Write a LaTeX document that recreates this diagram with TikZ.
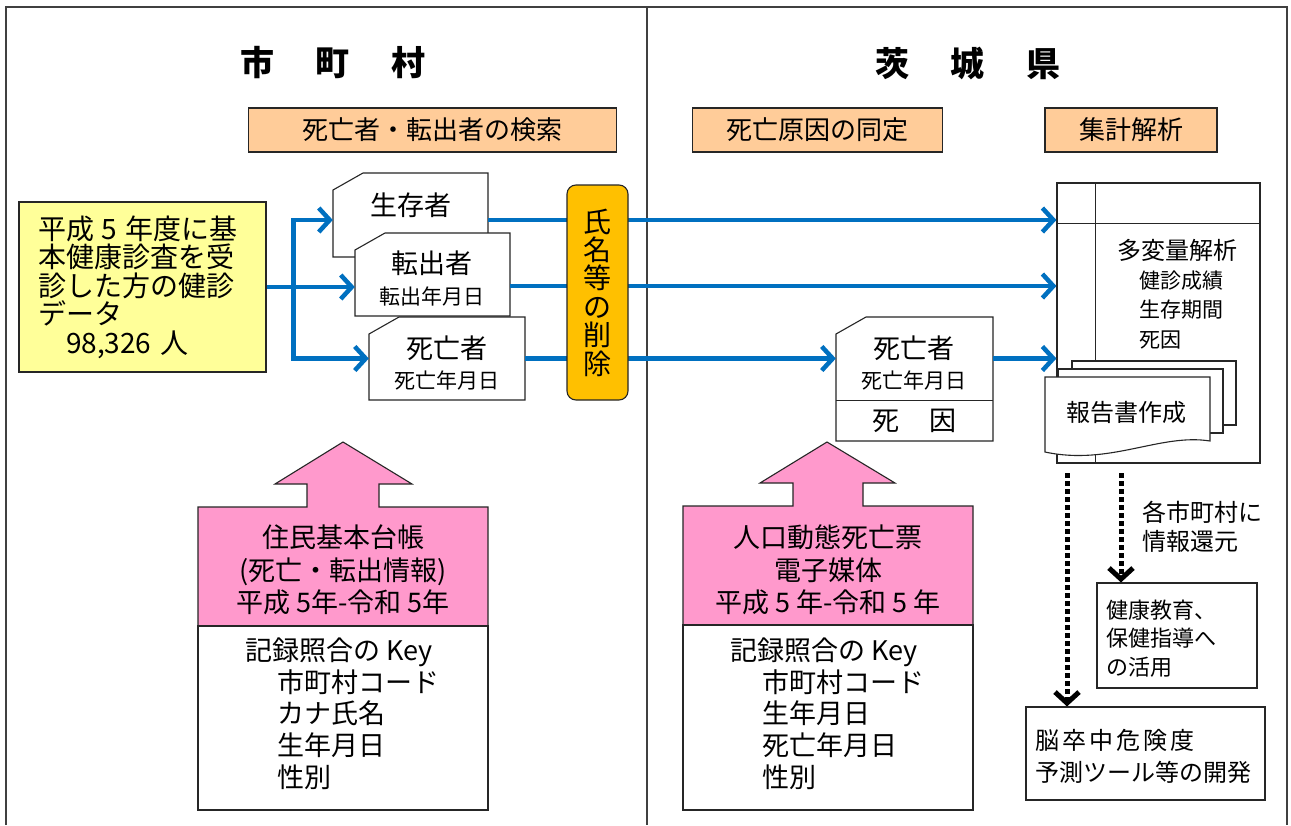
\documentclass[tikz,border=0pt]{standalone}
\usepackage{fontspec}
\setmainfont{Noto Sans CJK JP}
\usetikzlibrary{arrows.meta,calc}
\definecolor{arrowblue}{HTML}{0070C0}
\definecolor{hdrorange}{HTML}{FFCC99}
\definecolor{lightyellow}{HTML}{FFFF99}
\definecolor{goldfill}{HTML}{FFC000}
\definecolor{pinkfill}{HTML}{FF99CC}
\definecolor{edge}{HTML}{262626}
\newcommand{\fz}[2]{\fontsize{#1pt}{#2pt}\selectfont}
\newcommand{\cardpath}[4]{\filldraw[cardline] (#1,#4) -- (#1,#2+17) -- (#1+30,#2) -- (#3,#2) -- (#3,#4) -- cycle;}
\begin{document}
\begin{tikzpicture}[x=1pt,y=-1pt,
  frameline/.style={draw=black!75, line width=1.3pt},
  box/.style={draw=edge, line width=1.1pt, inner sep=0pt},
  txt/.style={inner sep=0pt},
  hdr/.style={box, fill=hdrorange, minimum height=44pt, font=\fz{26}{30}},
  cardline/.style={draw=edge, line width=1.1pt, fill=white},
  cardnode/.style={inner sep=0pt},
  bigtxt/.style={txt, font=\fz{27}{30}},
  smalltxt/.style={txt, font=\fz{21}{24}},
  titletxt/.style={txt, font=\fz{34}{38}\bfseries},
  bluearr/.style={draw=arrowblue, line width=4.5pt, -{Straight Barb[length=11pt,width=24pt]}},
  dotarr/.style={draw=black, line width=5pt, dash pattern=on 4.5pt off 3.5pt, -{Straight Barb[length=11pt,width=24pt]}},
  pinkshape/.style={draw=edge, line width=1.1pt, fill=pinkfill}
]
\useasboundingbox[fill=white] (0,0) rectangle (1291,825);
\draw[frameline] (6,825) -- (6,7) -- (1287,7) -- (1287,825);
\draw[frameline] (647,7) -- (647,825);

% titles
\node[titletxt] (tl) at (333,63) {市\hspace{42pt}町\hspace{42pt}村};
\node[titletxt] (tr) at (968,63) {茨\hspace{42pt}城\hspace{42pt}県};

% headers
\node[hdr, minimum width=368pt] (h1) at (432.5,130) {死亡者・転出者の検索};
\node[hdr, minimum width=250pt] (h2) at (817.5,130) {死亡原因の同定};
\node[hdr, minimum width=172pt] (h3) at (1131,130) {集計解析};

% yellow data box
\node[box, fill=lightyellow, minimum width=247pt, minimum height=170pt, text width=209pt, inner xsep=19pt, align=left, font=\fz{28}{28.5}] (yb) at (142.5,287) {平成\hspace{8pt}5\hspace{8pt}年度に基\\本健康診査を受\\診した方の健診\\データ\\\hspace*{28pt}98,326 人};

% cards
\cardpath{333}{173}{488}{257}
\node[cardnode, minimum width=155pt, minimum height=84pt] (c1) at (410.5,215) {};
\node[bigtxt] (c1a) at (411,205) {生存者};
\cardpath{355}{233}{510}{316}
\node[cardnode, minimum width=155pt, minimum height=83pt] (c2) at (432.5,274.5) {};
\node[bigtxt] (c2a) at (432,263) {転出者};
\node[smalltxt] (c2b) at (432,296) {転出年月日};
\cardpath{369}{317}{525}{400}
\node[cardnode, minimum width=156pt, minimum height=83pt] (c3) at (447,358.5) {};
\node[bigtxt] (c3a) at (447,348) {死亡者};
\node[smalltxt] (c3b) at (447,380) {死亡年月日};

% right card
\cardpath{836}{317}{993}{441}
\node[cardnode, minimum width=157pt, minimum height=124pt] (rc) at (914.5,379) {};
\draw[cardline] ($(rc.north west)+(0,84)$) -- ($(rc.north east)+(0,84)$);
\node[bigtxt] (rca) at (914,348) {死亡者};
\node[smalltxt] (rcb) at (914,380) {死亡年月日};
\node[bigtxt] (rcc) at (914,421) {死\hspace{30pt}因};

% analysis box
\node[box, fill=white, minimum width=203pt, minimum height=280pt] (bb) at (1158.5,323) {};
\draw[cardline] ($(bb.north west)+(0,41)$) -- ($(bb.north east)+(0,41)$);
\draw[cardline] ($(bb.north west)+(39,0)$) -- ($(bb.south west)+(39,0)$);
\node[txt, font=\fz{24}{28}] (bb1) at (1177,250) {多変量解析};
\node[txt, font=\fz{21}{29.5}, align=left, anchor=west] (bb2) at (1139,310) {健診成績\\生存期間\\死因};
\filldraw[cardline] (1072,361) rectangle (1236,425);
\filldraw[cardline] (1058,369) rectangle (1223,433);
\filldraw[cardline] (1045,377) -- (1210,377) -- (1210,441) .. controls (1160,433) and (1110,466) .. (1045,452) -- cycle;
\node[txt, font=\fz{24}{28}] (rep) at (1126,412) {報告書作成};

% blue connectors
\path (yb.east) ++(27,0) coordinate (br);
\draw[bluearr] (yb.east) -- (yb.east -| c2.west);
\draw[bluearr] (br) |- ([yshift=-5pt]c1.west);
\draw[bluearr] (br) |- (c3.west);
\draw[bluearr] ([yshift=-5pt]c1.east) -- ([yshift=-5pt]c1.east -| bb.west);
\draw[bluearr] ([yshift=-11.5pt]c2.east) -- ([yshift=-11.5pt]c2.east -| bb.west);
\draw[bluearr] (c3.east) -- (c3.east -| rc.west);
\draw[bluearr] (rc.east |- c3.east) -- (c3.east -| bb.west);

% name deletion bar
\node[draw=edge, line width=1.1pt, fill=goldfill, rounded corners=9pt, minimum width=61pt, minimum height=215pt, align=center, font=\fz{28}{28.4}, inner sep=0pt] (gb) at (597.5,292.5) {氏\\名\\等\\の\\削\\除};

% pink source arrows (left)
\filldraw[pinkshape] (198,626) -- (198,507) -- (307,507) -- (307,484) -- (275,484) -- (343,442) -- (412,484) -- (379,484) -- (379,507) -- (488,507) -- (488,626) -- cycle;
\node[txt, font=\fz{27}{32.5}, align=center] (p1) at (343,570) {住民基本台帳\\(死亡・転出情報)\\平成 5年-令和 5年};
\node[box, fill=white, minimum width=290pt, minimum height=184pt] (w1) at (343,718) {};
\node[txt, font=\fz{27}{31.7}, align=left, anchor=west] (w1t) at (245,713.5) {記録照合の Key\\\hspace*{32pt}市町村コード\\\hspace*{32pt}カナ氏名\\\hspace*{32pt}生年月日\\\hspace*{32pt}性別};

% pink source arrows (right)
\filldraw[pinkshape] (683,625) -- (683,506) -- (793,506) -- (793,483) -- (760,483) -- (827,442) -- (895,483) -- (863,483) -- (863,506) -- (973,506) -- (973,625) -- cycle;
\node[txt, font=\fz{27}{32.5}, align=center] (p2) at (828,570) {人口動態死亡票\\電子媒体\\平成 5 年-令和 5 年};
\node[box, fill=white, minimum width=290pt, minimum height=185pt] (w2) at (828,717.5) {};
\node[txt, font=\fz{27}{31.7}, align=left, anchor=west] (w2t) at (730,713.5) {記録照合の Key\\\hspace*{32pt}市町村コード\\\hspace*{32pt}生年月日\\\hspace*{32pt}死亡年月日\\\hspace*{32pt}性別};

% outputs
\coordinate (d1) at (1067,473);
\coordinate (d2) at (1121,473);
\node[box, fill=white, minimum width=160pt, minimum height=105pt] (e1) at (1177,635.5) {};
\node[box, fill=white, minimum width=239pt, minimum height=93pt] (e2) at (1145.5,753.5) {};
\draw[dotarr] (d2) -- (d2 |- e1.north);
\draw[dotarr] (d1) -- (d1 |- e2.north);
\node[txt, font=\fz{24}{29}, align=left, anchor=west] (ret) at (1142,526.5) {各市町村に\\情報還元};
\node[txt, font=\fz{22}{28.5}, align=left, anchor=west] (e1t) at (1106,638.5) {健康教育、\\保健指導へ\\の活用};
\node[txt, font=\fz{24}{32}, align=left, anchor=west] (e2t) at (1035,756) {脳\hspace{3pt}卒\hspace{3pt}中\hspace{3pt}危\hspace{3pt}険\hspace{3pt}度\\予測ツール等の開発};
\end{tikzpicture}
\end{document}
